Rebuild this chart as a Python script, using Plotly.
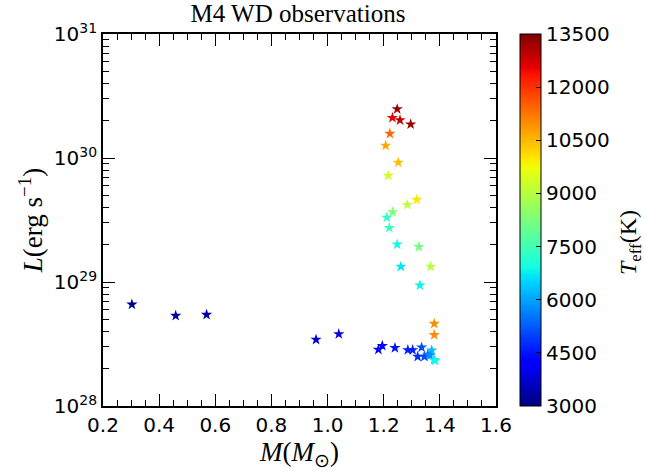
import numpy as np
import plotly.graph_objects as go

# Data
mass = [1.248, 1.231, 1.258, 1.296, 1.222, 1.207, 1.252, 1.216, 1.318, 1.284,
        1.232, 1.211, 1.220, 1.248, 1.325, 1.261, 1.367, 1.329, 1.380, 1.380,
        0.303, 0.459, 0.569, 0.959, 1.040, 1.181, 1.195, 1.240, 1.286, 1.303,
        1.335, 1.321, 1.345, 1.357, 1.371, 1.365, 1.379, 1.383]
lum = [2.48e30, 2.11e30, 2.02e30, 1.87e30, 1.57e30, 1.26e30, 9.2e29, 7.2e29, 4.61e29, 4.20e29,
       3.67e29, 3.31e29, 2.74e29, 2.01e29, 1.92e29, 1.33e29, 1.33e29, 9.4e28, 4.61e28, 3.74e28,
       6.59e28, 5.35e28, 5.45e28, 3.43e28, 3.81e28, 2.85e28, 3.06e28, 2.94e28, 2.83e28, 2.83e28,
       2.97e28, 2.50e28, 2.50e28, 2.60e28, 2.81e28, 2.56e28, 2.36e28, 2.32e28]
teff = [13300, 12600, 12900, 13200, 11400, 10700, 10450, 9300, 10000, 9200,
        8300, 7300, 7400, 6900, 8200, 6700, 9000, 6800, 11000, 11000,
        3200, 3300, 3400, 3850, 3900, 4200, 4200, 4500, 4600, 4600,
        5100, 4800, 5000, 5400, 6250, 5800, 6600, 6900]

x_ticks = [0.2, 0.4, 0.6, 0.8, 1.0, 1.2, 1.4, 1.6]
y_ticks = [1e28, 1e29, 1e30, 1e31]
y_ticktext = ["10<sup>28</sup>", "10<sup>29</sup>", "10<sup>30</sup>", "10<sup>31</sup>"]
cb_ticks = [3000, 4500, 6000, 7500, 9000, 10500, 12000, 13500]

# matplotlib 'jet' colormap
def jet_scale():
    r = ([0, 0.35, 0.66, 0.89, 1], [0, 0, 1, 1, 0.5])
    g = ([0, 0.125, 0.375, 0.64, 0.91, 1], [0, 0, 1, 1, 0, 0])
    b = ([0, 0.11, 0.34, 0.65, 1], [0.5, 1, 1, 0, 0])
    pts = sorted(set(r[0] + g[0] + b[0]))
    out = []
    for p in pts:
        rr = np.interp(p, *r); gg = np.interp(p, *g); bb = np.interp(p, *b)
        out.append([p, f"rgb({int(rr*255)},{int(gg*255)},{int(bb*255)})"])
    return out

L, R, T, B = 103, 150, 34, 67
W, H = 646, 473
pw = W - L - R
ph = H - T - B

fig = go.Figure(go.Scatter(
    x=mass, y=lum, mode="markers",
    marker=dict(symbol="star", size=8.5, color=teff, cmin=3000, cmax=13500,
                colorscale=jet_scale(), line=dict(width=0),
                colorbar=dict(x=(520 - L) / pw, xanchor="left", xpad=0, ypad=0,
                              y=0.5, yanchor="middle", len=1, lenmode="fraction",
                              thickness=21, outlinecolor="black", outlinewidth=1,
                              tickvals=cb_ticks, ticktext=[str(v) for v in cb_ticks],
                              ticks="inside", ticklen=5, tickcolor="black",
                              tickfont=dict(family="DejaVu Sans", size=20, color="black"))),
    showlegend=False))

fig.update_layout(
    width=W, height=H, margin=dict(l=L, r=R, t=T, b=B, autoexpand=False),
    paper_bgcolor="white", plot_bgcolor="white",
    title=dict(text="M4 WD observations", x=298 / W, xanchor="center",
               y=1 - 13 / H, yanchor="middle",
               font=dict(family="Liberation Serif", size=25, color="black")),
    xaxis=dict(range=[0.2, 1.6], tickvals=x_ticks, ticktext=[f"{v:.1f}" for v in x_ticks],
               ticks="inside", ticklen=12, tickwidth=1.3, tickcolor="black",
               showline=True, linecolor="black", linewidth=1.8, mirror="allticks",
               showgrid=False, zeroline=False,
               minor=dict(dtick=0.05, ticks="inside", ticklen=6, tickwidth=1, tickcolor="black", showgrid=False),
               tickfont=dict(family="DejaVu Sans", size=20, color="black"),
               title=dict(text="<i>M</i>(<i>M</i><sub>⊙</sub>)", standoff=6,
                          font=dict(family="Liberation Serif", size=27, color="black"))),
    yaxis=dict(type="log", range=[28, 31], tickvals=y_ticks, ticktext=y_ticktext,
               ticks="inside", ticklen=12, tickwidth=1.3, tickcolor="black",
               showline=True, linecolor="black", linewidth=1.8, mirror="allticks",
               showgrid=False, zeroline=False,
               minor=dict(dtick="D1", ticks="inside", ticklen=6, tickwidth=1, tickcolor="black", showgrid=False),
               tickfont=dict(family="DejaVu Sans", size=20, color="black"),
               title=dict(text="<i>L</i>(erg s<sup>−1</sup>)", standoff=3,
                          font=dict(family="Liberation Serif", size=27, color="black"))),
    annotations=[dict(text="<i>T</i><sub>eff</sub>(K)", textangle=-90,
                      x=(630 - L) / pw, y=(H - B - 243) / ph, xref="paper", yref="paper",
                      xanchor="center", yanchor="middle", showarrow=False,
                      font=dict(family="Liberation Serif", size=24, color="black"))],
)

fig.write_html("out.html", config={"displayModeBar": False},
               post_script="document.body.style.margin='0px';")
